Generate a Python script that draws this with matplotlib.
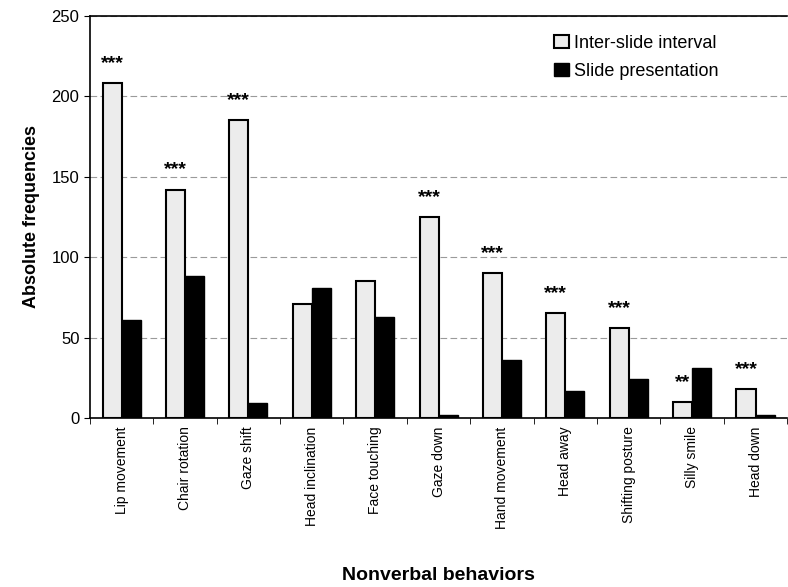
import numpy as np
import matplotlib
matplotlib.use('Agg')
import matplotlib.pyplot as plt

plt.rcParams['font.family'] = ['Liberation Sans', 'DejaVu Sans']

categories = ['Lip movement', 'Chair rotation', 'Gaze shift', 'Head inclination',
              'Face touching', 'Gaze down', 'Hand movement', 'Head away',
              'Shifting posture', 'Silly smile', 'Head down']
inter_slide = [208, 142, 185, 71, 85, 125, 90, 65, 56, 10, 18]
slide_pres = [61, 88, 9, 81, 63, 2, 36, 17, 24, 31, 2]
signif = ['***', '***', '***', '', '', '***', '***', '***', '***', '**', '***']

fig = plt.figure(figsize=(7.88, 5.87), dpi=100)
ax = fig.add_axes([0.114, 0.288, 0.885, 0.685])

x = np.arange(len(categories))
w = 0.3
ax.bar(x - w / 2, inter_slide, w, color='#ececec', edgecolor='black', linewidth=1.5,
       label='Inter-slide interval', zorder=3)
ax.bar(x + w / 2, slide_pres, w, color='black', edgecolor='black', linewidth=1.0,
       label='Slide presentation', zorder=3)

for xi, v, s in zip(x, inter_slide, signif):
    if s:
        ax.text(xi - w / 2, v + 7, s, ha='center', va='bottom', fontsize=14, fontweight='bold')

ax.set_xlim(-0.5, len(categories) - 0.5)
ax.set_ylim(0, 250)
ax.set_yticks([0, 50, 100, 150, 200, 250])
ax.yaxis.grid(True, color='#9a9a9a', linestyle=(0, (6, 3)), linewidth=0.8, zorder=0)

ax.set_xticks(x)
ax.set_xticklabels(categories, rotation=90, fontsize=10)
ax.tick_params(axis='x', length=0, pad=6)
ax.set_xticks(np.arange(len(categories) + 1) - 0.5, minor=True)
ax.tick_params(axis='x', which='minor', length=4, direction='out')
ax.tick_params(axis='y', labelsize=12, length=4, direction='out')

for sp in ['left', 'top', 'bottom']:
    ax.spines[sp].set_linewidth(1.2)
ax.spines['right'].set_visible(False)

ax.set_ylabel('Absolute frequencies', fontsize=13, fontweight='bold', labelpad=8)
fig.text(0.556, 1 - 575 / 587, 'Nonverbal behaviors', fontsize=14, fontweight='bold',
         ha='center', va='center')

ax.legend(loc='upper right', frameon=False, fontsize=13, handlelength=0.8,
          handletextpad=0.3, labelspacing=0.6, bbox_to_anchor=(0.925, 0.993))

fig.savefig('out.png', dpi=100)
